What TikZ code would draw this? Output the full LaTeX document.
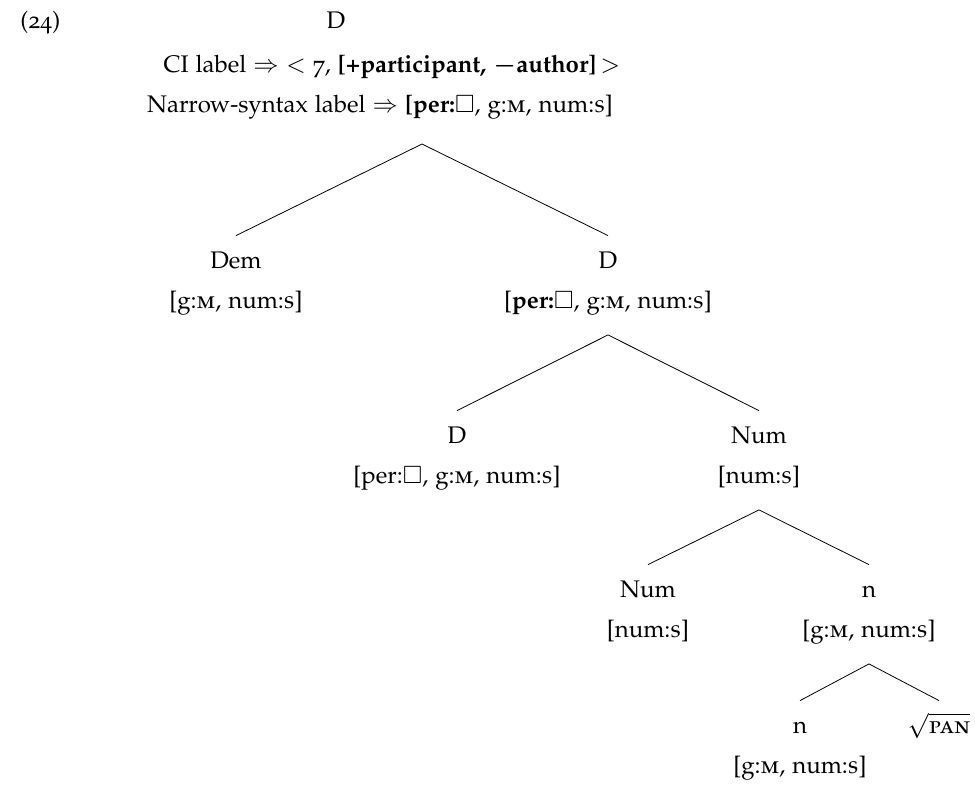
\documentclass[tikz,border=0pt,12pt]{standalone}
\usepackage{amsmath, amssymb}
\usepackage[T1]{fontenc}
\usepackage[sc,osf]{mathpazo}
\usepackage{xcolor}
\usepackage{tikz}

\tikzset{
  lbl/.style={inner sep=1pt, text height=1.6ex, text depth=.4ex},
  cat/.style={lbl, anchor=base}
}

\begin{document}
\begin{tikzpicture}[x=0.5pt, y=-0.5pt, node distance=20pt]
        \useasboundingbox (0,0) rectangle (975,784);

        % Top label
        \node (exno) [cat, anchor=base west] at (18,28) {(24)};
        \node (topd) [cat] at (336,28) {D};
        \node (cilabel) [lbl] at (392,66) {CI label $\Rightarrow$ $<$ 7, \textbf{[+participant, {\boldmath$-$}author]}\,$>$};
        \node (nslabel) [lbl] at (380,106) {Narrow-syntax label $\Rightarrow$ \textbf{[per:}$\Box$, g:\textsc{m}, num:\textsc{s}]};
        \coordinate (topapex) at (422,144);

        % Nodes
        \node (dem) [cat] at (236,268) {Dem};
        \node (demf) [lbl, below of=dem] {[g:\textsc{m}, num:\textsc{s}]};
        \node (dtwo) [cat] at (608,268) {D};
        \node (dtwof) [lbl, below of=dtwo] {[\textbf{per:}$\Box$, g:\textsc{m}, num:\textsc{s}]};
        \node (dthree) [cat] at (457,443) {D};
        \node (dthreef) [lbl, below of=dthree] {[per:$\Box$, g:\textsc{m}, num:\textsc{s}]};
        \node (numthree) [cat] at (759,443) {Num};
        \node (numthreef) [lbl, below of=numthree] {[num:\textsc{s}]};
        \node (numfour) [cat] at (648,597) {Num};
        \node (numfourf) [lbl, below of=numfour] {[num:\textsc{s}]};
        \node (nfour) [cat] at (869,597) {n};
        \node (nfourf) [lbl, below of=nfour] {[g:\textsc{m}, num:\textsc{s}]};
        \node (nfive) [cat] at (800,733) {n};
        \node (nfivef) [lbl, below of=nfive] {[g:\textsc{m}, num:\textsc{s}]};
        \node (pan) [cat] at (939,733) {$\sqrt{\textsc{pan}}$};

        % Branches
        \draw (topapex) -- ([yshift=6pt]dem.north);
        \draw (topapex) -- ([yshift=6pt]dtwo.north);
        \draw ([yshift=-10pt]dtwof.south) -- ([yshift=6pt]dthree.north);
        \draw ([yshift=-10pt]dtwof.south) -- ([yshift=6pt]numthree.north);
        \draw ([yshift=-10pt]numthreef.south) -- ([yshift=6pt]numfour.north);
        \draw ([yshift=-10pt]numthreef.south) -- ([yshift=6pt]nfour.north);
        \draw ([yshift=-10pt]nfourf.south) -- ([yshift=6pt]nfive.north);
        \draw ([yshift=-10pt]nfourf.south) -- ([yshift=6pt]pan.north);
    \end{tikzpicture}
\end{document}
